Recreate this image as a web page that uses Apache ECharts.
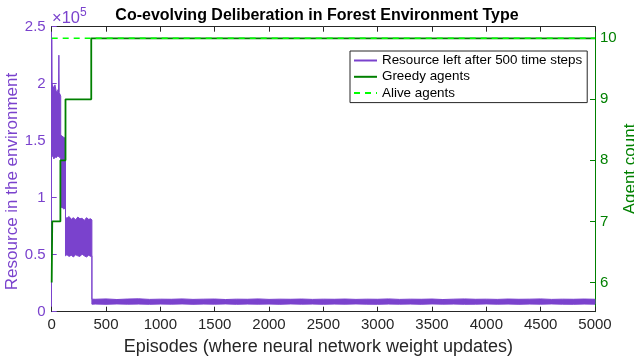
<!DOCTYPE html>
<html>
<head>
<meta charset="utf-8">
<script src="https://cdn.jsdelivr.net/npm/echarts@6/dist/echarts.min.js"></script>
<style>
  html, body { margin: 0; padding: 0; background: #ffffff; }
  #chart { width: 634px; height: 360px; }
</style>
</head>
<body>
<div id="chart"></div>
<script>
// ---- chart text ----
const titleText = 'Co-evolving Deliberation in Forest Environment Type';
const xName = 'Episodes (where neural network weight updates)';
const leftName = 'Resource in the environment';
const rightName = 'Agent count';
const resourceName = 'Resource left after 500 time steps';
const greedyName = 'Greedy agents';
const aliveName = 'Alive agents';

// ---- tick values ----
const xTicks = [0, 500, 1000, 1500, 2000, 2500, 3000, 3500, 4000, 4500, 5000];
const leftTicks = [0, 50000, 100000, 150000, 200000, 250000];
const rightTicks = [6, 7, 8, 9, 10];

// ---- resource left: lower / upper edge of the oscillating trace per episode ----
const resourceEpisodes = [
  0, 1, 3, 10, 20, 30, 40, 50, 60, 63, 66, 69, 75, 83,
  83, 95, 110, 127,
  127, 140, 160, 180, 200, 220, 240, 260, 280, 300, 320, 340, 360, 370,
  370, 400, 500, 600, 700, 800, 900, 1000, 1100, 1200, 1300, 1400, 1500, 1600,
  1700, 1800, 1900, 2000, 2100, 2200, 2300, 2400, 2500, 2600, 2700, 2800, 2900,
  3000, 3100, 3200, 3300, 3400, 3500, 3600, 3700, 3800, 3900, 4000, 4100, 4200,
  4300, 4400, 4500, 4600, 4700, 4800, 4900, 5000
];
const resourceLow = [
  138000, 138000, 136000, 137000, 134000, 136000, 135000, 136000, 137000, 136000, 137000, 136000, 135000, 135000,
  91000, 92000, 90000, 91000,
  49000, 50000, 48500, 49500, 48000, 50000, 49000, 48500, 50500, 49000, 48000, 49500, 48500, 49000,
  6600, 6700, 6500, 6800, 6600, 6700, 6500, 6700, 6600, 6800, 6500, 6700, 6600, 6800,
  6500, 6700, 6600, 6700, 6500, 6800, 6600, 6700, 6500, 6700, 6600, 6800, 6600,
  6500, 6700, 6600, 6700, 6500, 6800, 6600, 6700, 6500, 6600, 6800, 6600, 6700,
  6500, 6700, 6600, 6800, 6600, 6500, 6700, 6600
];
const resourceHigh = [
  240000, 240000, 200000, 198000, 196000, 199000, 194000, 193000, 195000, 194000, 225000, 192000, 191000, 189000,
  155000, 154000, 153000, 152000,
  83000, 82000, 83500, 81000, 82500, 80500, 83000, 81500, 82000, 80000, 82500, 81000, 81500, 80500,
  11000, 10900, 11200, 10700, 11100, 11300, 10800, 11000, 10900, 11200, 10800, 11000, 11100, 10700,
  11000, 10900, 11200, 10800, 11000, 10900, 11100, 10800, 11000, 10900, 11100, 10800, 11000,
  10900, 11200, 10800, 11000, 10900, 11100, 10700, 11000, 11200, 10900, 11000, 10800, 11100,
  10900, 11000, 11200, 10800, 11000, 10900, 11100, 10900
];

// ---- agent counts (right axis) ----
const greedyEpisodes = [0, 5, 80, 127, 364, 5000];
const greedyCounts = [6, 7, 8, 9, 10, 10];
const aliveEpisodes = [0, 5000];
const aliveCounts = [10, 10];

// ---- styling ----
const FONT = '"Liberation Sans", Arial, Helvetica, sans-serif';
const PURPLE = '#7a42cd';
const GREEN = '#008000';
const BRIGHT_GREEN = '#00ff00';
const DARK = '#262626';

const chart = echarts.init(document.getElementById('chart'), null, { renderer: 'canvas' });

const resourceRows = resourceEpisodes.map((e, i) => [e, resourceLow[i], resourceHigh[i]]);

const option = {
  animation: false,
  backgroundColor: '#ffffff',
  textStyle: { fontFamily: FONT },
  title: {
    text: titleText,
    left: 'center',
    top: 3,
    textStyle: { fontFamily: FONT, fontSize: 16, fontWeight: 'bold', color: '#000000' }
  },
  grid: { left: 51.7, right: 39, top: 26.7, bottom: 48.3, containLabel: false, outerBoundsMode: 'none' },
  legend: {
    orient: 'vertical',
    left: 350,
    top: 51,
    itemWidth: 23,
    itemHeight: 14,
    itemGap: 2.3,
    padding: [2.5, 5, 2.5, 3],
    backgroundColor: '#ffffff',
    borderColor: DARK,
    borderWidth: 1,
    borderRadius: 0,
    selectedMode: false,
    itemStyle: { opacity: 0 },
    textStyle: { fontFamily: FONT, fontSize: 13.4, color: '#000000', lineHeight: 14 },
    data: [resourceName, greedyName, aliveName]
  },
  graphic: [
    {
      // axis exponent
      type: 'text',
      left: 52,
      top: 7,
      silent: true,
      style: {
        text: '{a|×10}{b|5}',
        rich: {
          a: { fontFamily: FONT, fontSize: 16.5, fill: PURPLE, verticalAlign: 'bottom', lineHeight: 20 },
          b: { fontFamily: FONT, fontSize: 12, fill: PURPLE, verticalAlign: 'top', lineHeight: 20, padding: [0, 0, 9, 0] }
        }
      }
    },
    {
      // left axis title
      type: 'text',
      x: 12.5,
      y: 181.5,
      rotation: Math.PI / 2,
      silent: true,
      style: {
        text: leftName,
        fontFamily: FONT,
        fontSize: 17,
        fill: PURPLE,
        align: 'center',
        verticalAlign: 'middle'
      }
    },
    {
      // right axis title
      type: 'text',
      x: 630.5,
      y: 169,
      rotation: Math.PI / 2,
      silent: true,
      style: {
        text: rightName,
        fontFamily: FONT,
        fontSize: 17,
        fill: GREEN,
        align: 'center',
        verticalAlign: 'middle'
      }
    }
  ],
  xAxis: [
    {
      type: 'value',
      position: 'bottom',
      min: 0, max: 5000, interval: 500,
      name: xName,
      nameLocation: 'middle',
      nameGap: 26,
      nameTextStyle: { fontFamily: FONT, fontSize: 18, color: DARK, padding: [0, 10, 0, 0] },
      axisLine: { show: true, onZero: false, lineStyle: { color: DARK, width: 1 } },
      axisTick: { show: true, inside: true, length: 5, lineStyle: { color: DARK, width: 1 } },
      axisLabel: { show: true, margin: 6, fontFamily: FONT, fontSize: 15, color: DARK, formatter: v => String(v) },
      splitLine: { show: false }
    },
    {
      type: 'value',
      position: 'top',
      min: 0, max: 5000, interval: 500,
      axisLine: { show: true, onZero: false, lineStyle: { color: DARK, width: 1 } },
      axisTick: { show: true, inside: true, length: 5, lineStyle: { color: DARK, width: 1 } },
      axisLabel: { show: false },
      splitLine: { show: false }
    }
  ],
  yAxis: [
    {
      type: 'value',
      position: 'left',
      min: 0, max: 250000, interval: 50000,
      axisLine: { show: true, onZero: false, lineStyle: { color: PURPLE, width: 1 } },
      axisTick: { show: true, inside: true, length: 5, lineStyle: { color: PURPLE, width: 1 } },
      axisLabel: {
        show: true, margin: 6, fontFamily: FONT, fontSize: 15, color: PURPLE,
        customValues: leftTicks,
        formatter: v => String(+(v / 1e5).toFixed(1))
      },
      splitLine: { show: false }
    },
    {
      type: 'value',
      position: 'right',
      min: 5.52, max: 10.19,
      axisLine: { show: true, onZero: false, lineStyle: { color: GREEN, width: 1 } },
      axisTick: { show: true, inside: true, length: 5, customValues: rightTicks, lineStyle: { color: GREEN, width: 1 } },
      axisLabel: {
        show: true, margin: 5, fontFamily: FONT, fontSize: 15, color: GREEN,
        customValues: rightTicks,
        formatter: v => String(v)
      },
      splitLine: { show: false }
    }
  ],
  series: [
    {
      // legend key for the resource trace
      name: resourceName,
      type: 'line',
      xAxisIndex: 0, yAxisIndex: 0,
      data: [],
      symbol: 'none',
      lineStyle: { color: PURPLE, width: 1.5 },
      itemStyle: { color: PURPLE }
    },
    {
      name: resourceName,
      type: 'custom',
      xAxisIndex: 0, yAxisIndex: 0,
      clip: true,
      z: 2,
      encode: { x: 0, y: [1, 2] },
      data: resourceRows,
      renderItem: function (params, api) {
        if (params.dataIndex !== 0) return null;
        const upper = resourceEpisodes.map((e, i) => api.coord([e, resourceHigh[i]]));
        const lower = resourceEpisodes.map((e, i) => api.coord([e, resourceLow[i]])).reverse();
        return {
          type: 'polygon',
          shape: { points: upper.concat(lower) },
          style: { fill: PURPLE, stroke: PURPLE, lineWidth: 1 }
        };
      }
    },
    {
      name: greedyName,
      type: 'line',
      xAxisIndex: 0, yAxisIndex: 1,
      step: 'end',
      symbol: 'none',
      z: 3,
      data: greedyEpisodes.map((e, i) => [e, greedyCounts[i]]),
      lineStyle: { color: GREEN, width: 1.8 },
      itemStyle: { color: GREEN }
    },
    {
      name: aliveName,
      type: 'line',
      xAxisIndex: 0, yAxisIndex: 1,
      symbol: 'none',
      z: 4,
      data: aliveEpisodes.map((e, i) => [e, aliveCounts[i]]),
      lineStyle: { color: BRIGHT_GREEN, width: 1.5, type: [6, 5] },
      itemStyle: { color: BRIGHT_GREEN }
    }
  ]
};

chart.setOption(option);
</script>
</body>
</html>
